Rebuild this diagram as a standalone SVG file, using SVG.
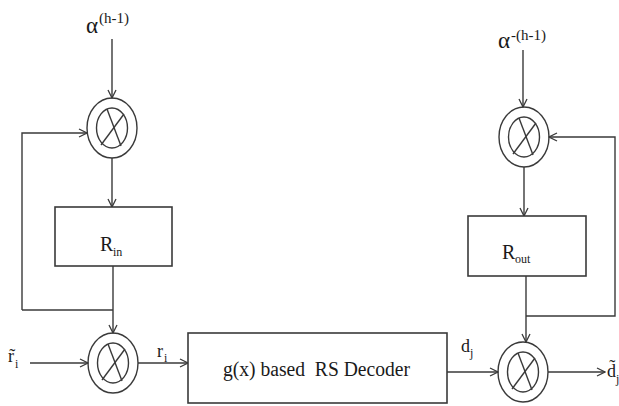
<svg xmlns="http://www.w3.org/2000/svg" width="619" height="406" viewBox="0 0 619 406">
<style>
.ln{stroke:#3a3a3a;stroke-width:1.4;fill:none}
.box{stroke:#3a3a3a;stroke-width:1.6;fill:#fff}
.t{font-family:"Liberation Serif","Times New Roman",serif;fill:#1a1a1a}
.big{font-size:20px}
.sub{font-size:12px}
.sup{font-size:15px}
</style>
<defs>
<marker id="ar" viewBox="0 0 10 10" refX="9" refY="5" markerWidth="10" markerHeight="10" markerUnits="userSpaceOnUse" orient="auto">
<path d="M1,1 L9,5 L1,9" fill="none" stroke="#3a3a3a" stroke-width="1.3"/>
</marker>
<g id="mul">
<ellipse cx="0" cy="0" rx="25" ry="30" class="ln"/>
<ellipse cx="0" cy="0" rx="15.5" ry="20" class="ln"/>
<line x1="-5" y1="-19" x2="9" y2="18" class="ln"/>
<line x1="-11" y1="17" x2="12" y2="-14" class="ln"/>
</g>
</defs>
<rect width="619" height="406" fill="#fff"/>

<g id="connectors">
<line x1="112" y1="39" x2="112" y2="98" class="ln" marker-end="url(#ar)"/>
<polyline points="22,310 22,133 87,133" class="ln" marker-end="url(#ar)"/>
<line x1="112" y1="158" x2="112" y2="207" class="ln" marker-end="url(#ar)"/>
<line x1="113" y1="266" x2="113" y2="333" class="ln" marker-end="url(#ar)"/>
<line x1="22" y1="310" x2="113" y2="310" class="ln"/>
<line x1="30" y1="363" x2="88" y2="363" class="ln" marker-end="url(#ar)"/>
<line x1="138" y1="363" x2="188" y2="363" class="ln" marker-end="url(#ar)"/>
<line x1="523" y1="50" x2="523" y2="107" class="ln" marker-end="url(#ar)"/>
<polyline points="526,316 615,316 615,137 549,137" class="ln" marker-end="url(#ar)"/>
<line x1="524" y1="167" x2="524" y2="216" class="ln" marker-end="url(#ar)"/>
<line x1="526" y1="276" x2="526" y2="342" class="ln" marker-end="url(#ar)"/>
<line x1="447" y1="372" x2="498" y2="372" class="ln" marker-end="url(#ar)"/>
<line x1="548" y1="372" x2="605" y2="372" class="ln" marker-end="url(#ar)"/>
</g>

<g id="alpha-in">
<text class="t" x="86" y="33" font-size="23">α</text>
<text class="t sup" x="99" y="23">(h-1)</text>
</g>
<g id="alpha-out">
<text class="t" x="498" y="48" font-size="23">α</text>
<text class="t sup" x="511" y="40">-(h-1)</text>
</g>

<g id="mul-tl"><use href="#mul" x="112" y="128"/></g>
<g id="mul-bl"><use href="#mul" x="113" y="363"/></g>
<g id="mul-tr"><use href="#mul" x="524" y="137"/></g>
<g id="mul-br"><use href="#mul" x="523" y="372"/></g>

<g id="rin">
<rect x="55" y="207" width="117" height="59" class="box"/>
<text class="t big" x="100" y="251">R</text>
<text class="t sub" x="113" y="256">in</text>
</g>

<g id="rout">
<rect x="468" y="216" width="118" height="60" class="box"/>
<text class="t big" x="502" y="259">R</text>
<text class="t sub" x="515" y="263">out</text>
</g>

<g id="decoder">
<rect x="188" y="333" width="259" height="70" class="box"/>
<text class="t" x="223" y="376" font-size="20" textLength="187" lengthAdjust="spacingAndGlyphs" style="white-space:pre">g(x) based  RS Decoder</text>
</g>

<g id="label-rt">
<text class="t" x="8" y="362" font-size="18">r̃</text>
<text class="t sub" x="15" y="368">i</text>
</g>
<g id="label-ri">
<text class="t" x="157" y="357" font-size="18">r</text>
<text class="t sub" x="164" y="362">i</text>
</g>
<g id="label-dj">
<text class="t" x="461" y="352" font-size="18">d</text>
<text class="t sub" x="470" y="357">j</text>
</g>
<g id="label-dt">
<text class="t" x="607" y="377" font-size="18">d̃</text>
<text class="t sub" x="616" y="383">j</text>
</g>
</svg>
